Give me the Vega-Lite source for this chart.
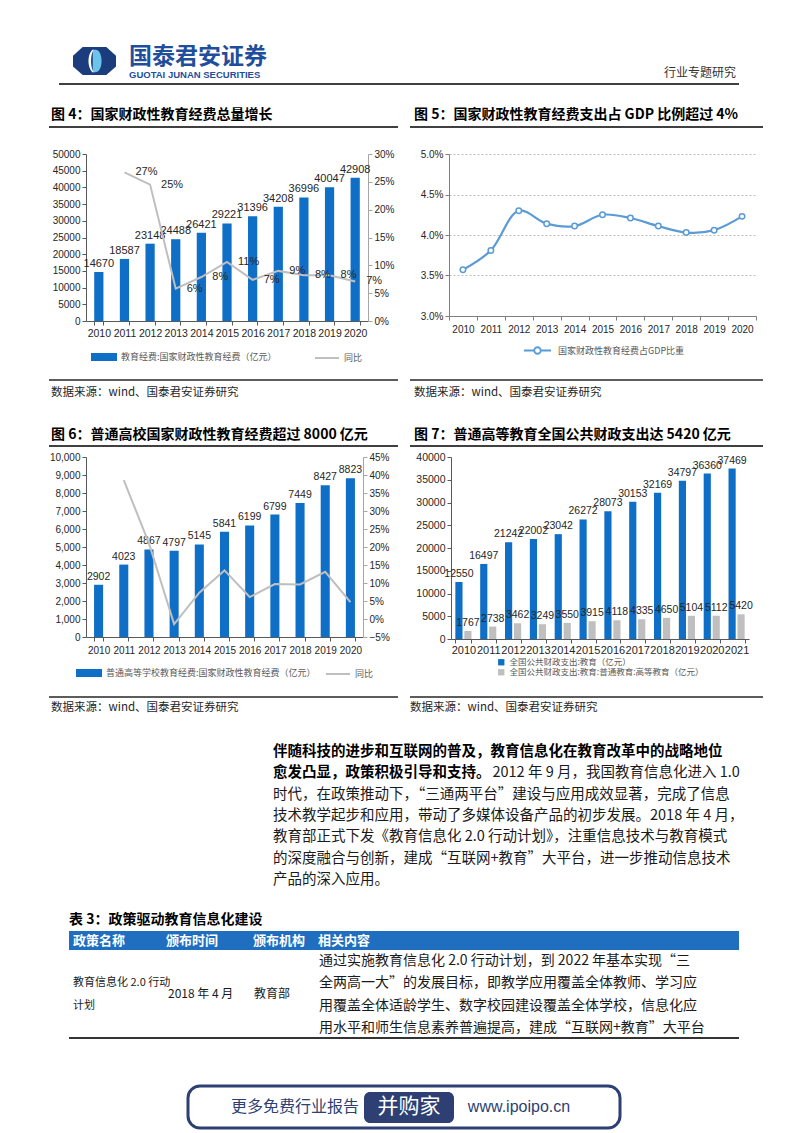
{
"$schema": "https://vega.github.io/schema/vega-lite/v6.json",
"background": "white",
"padding": {"left": 48, "top": 40, "right": 0, "bottom": 0},
"spacing": 0,
"resolve": {"scale": {"color": "independent"}, "legend": {"color": "independent"}},
"config": {
  "view": {"stroke": null},
  "font": "Liberation Sans",
  "axis": {"labelFont": "Liberation Sans", "labelColor": "#262626", "labelFontSize": 10, "grid": false, "domainColor": "#7F7F7F", "tickColor": "#7F7F7F", "tickSize": 4, "labelPadding": 2, "labelOverlap": false},
  "legend": {"layout": {"bottom": {"anchor": "middle"}}, "labelFont": "Noto Sans CJK SC", "labelFontSize": 9, "labelColor": "#595959"},
  "text": {"font": "Noto Sans CJK SC"}
},
"vconcat": [
{
  "width": 677, "height": 109,
  "data": {"values": [{}]},
  "layer": [
    {"mark": {"type": "point", "shape": "M-0.55,-0.65L0.55,-0.65L1,-0.25L1,0.25L0.55,0.65L-0.55,0.65L-1,0.25L-1,-0.25Z", "size": 1849, "filled": true, "color": "#1B3D7E", "opacity": 1},
     "encoding": {"x": {"datum": 45.5, "type": "quantitative", "scale": {"domain": [0, 714], "range": [-37, 677], "nice": false, "zero": false}, "axis": null},
                  "y": {"datum": 21, "type": "quantitative", "scale": {"domain": [0, 109], "nice": false, "zero": false, "reverse": true}, "axis": null}}},
    {"mark": {"type": "point", "shape": "M-0.08,-0.52L0.05,-0.52C0.42,-0.52,0.42,0.52,0.05,0.52L-0.08,0.52Z", "size": 1849, "filled": true, "color": "#6CC4EA", "opacity": 1},
     "encoding": {"x": {"datum": 45.5, "type": "quantitative", "axis": null}, "y": {"datum": 21, "type": "quantitative", "axis": null}}},
    {"mark": {"type": "point", "shape": "M-0.1,-0.52C-0.34,-0.3,-0.34,0.3,-0.1,0.52L-0.04,0.52C-0.2,0.3,-0.2,-0.3,-0.04,-0.52Z", "size": 1849, "filled": true, "color": "#FFFFFF", "opacity": 1},
     "encoding": {"x": {"datum": 45.5, "type": "quantitative", "axis": null}, "y": {"datum": 21, "type": "quantitative", "axis": null}}},
    {"data": {"values": [{"t": "国泰君安证券"}]},
     "mark": {"type": "text", "align": "left", "baseline": "middle", "fontSize": 23, "fontWeight": "bold", "color": "#1F4E9C", "font": "Noto Sans CJK SC"},
     "encoding": {"x": {"datum": 80, "type": "quantitative", "axis": null}, "y": {"datum": 17, "type": "quantitative", "axis": null}, "text": {"field": "t"}}},
    {"data": {"values": [{"t": "GUOTAI JUNAN SECURITIES"}]},
     "mark": {"type": "text", "align": "left", "baseline": "middle", "fontSize": 9.5, "fontWeight": "bold", "color": "#1F4E9C", "font": "Liberation Sans"},
     "encoding": {"x": {"datum": 80, "type": "quantitative", "axis": null}, "y": {"datum": 35, "type": "quantitative", "axis": null}, "text": {"field": "t"}}},
    {"data": {"values": [{"t": "行业专题研究"}]},
     "mark": {"type": "text", "align": "right", "baseline": "middle", "fontSize": 12, "color": "#333333"},
     "encoding": {"x": {"datum": 687, "type": "quantitative", "axis": null}, "y": {"datum": 33, "type": "quantitative", "axis": null}, "text": {"field": "t"}}},
    {"mark": {"type": "rule", "color": "#404040", "strokeWidth": 2},
     "encoding": {"x": {"datum": 10, "type": "quantitative", "axis": null}, "x2": {"datum": 690}, "y": {"datum": 44, "type": "quantitative", "axis": null}}},
    {"data": {"values": [{"t": "图 4：国家财政性教育经费总量增长"}]},
     "mark": {"type": "text", "align": "left", "baseline": "middle", "fontSize": 14, "fontWeight": "bold", "color": "#000000"},
     "encoding": {"x": {"datum": 2, "type": "quantitative", "axis": null}, "y": {"datum": 75, "type": "quantitative", "axis": null}, "text": {"field": "t"}}},
    {"data": {"values": [{"t": "图 5：国家财政性教育经费支出占 GDP 比例超过 4%"}]},
     "mark": {"type": "text", "align": "left", "baseline": "middle", "fontSize": 14, "fontWeight": "bold", "color": "#000000"},
     "encoding": {"x": {"datum": 365, "type": "quantitative", "axis": null}, "y": {"datum": 75, "type": "quantitative", "axis": null}, "text": {"field": "t"}}},
    {"mark": {"type": "rule", "color": "#000000", "strokeWidth": 1.5},
     "encoding": {"x": {"datum": 0, "type": "quantitative", "axis": null}, "x2": {"datum": 349}, "y": {"datum": 87, "type": "quantitative", "axis": null}}},
    {"mark": {"type": "rule", "color": "#000000", "strokeWidth": 1.5},
     "encoding": {"x": {"datum": 361, "type": "quantitative", "axis": null}, "x2": {"datum": 714}, "y": {"datum": 87, "type": "quantitative", "axis": null}}}
  ]
},
{
  "resolve": {"scale": {"color": "independent"}, "legend": {"color": "independent"}},
  "hconcat": [
    {
      "width": 282, "height": 167,
      "data": {"values": [
        {"year": "2010", "value": 14670, "yoy": null},
        {"year": "2011", "value": 18587, "yoy": 0.267},
        {"year": "2012", "value": 23148, "yoy": 0.245},
        {"year": "2013", "value": 24488, "yoy": 0.058},
        {"year": "2014", "value": 26421, "yoy": 0.079},
        {"year": "2015", "value": 29221, "yoy": 0.106},
        {"year": "2016", "value": 31396, "yoy": 0.074},
        {"year": "2017", "value": 34208, "yoy": 0.090},
        {"year": "2018", "value": 36996, "yoy": 0.082},
        {"year": "2019", "value": 40047, "yoy": 0.082},
        {"year": "2020", "value": 42908, "yoy": 0.071}
      ]},
      "encoding": {"x": {"field": "year", "type": "ordinal", "scale": {"paddingInner": 0.64, "paddingOuter": 0.32},
        "axis": {"title": null, "labelAngle": 0, "tickBand": "extent", "domainColor": "#595959", "tickColor": "#595959", "labelFontSize": 10.5, "labelPadding": 3}}},
      "layer": [
        {"layer": [
          {"mark": {"type": "bar"},
           "encoding": {
             "y": {"field": "value", "type": "quantitative", "scale": {"domain": [0, 50000], "nice": false},
                   "axis": {"title": null, "values": [0, 5000, 10000, 15000, 20000, 25000, 30000, 35000, 40000, 45000, 50000], "format": "d", "domainColor": "#595959", "tickColor": "#595959"}},
             "color": {"datum": "教育经费:国家财政性教育经费（亿元）",
                       "scale": {"domain": ["教育经费:国家财政性教育经费（亿元）", "同比"], "range": ["#0F6FC6", "#BFBFBF"]},
                       "legend": {"orient": "bottom", "direction": "horizontal", "title": null, "symbolSize": 576, "labelLimit": 400, "columnPadding": 34, "offset": 5,
                                  "encode": {"symbols": {"update": {
                                    "shape": {"signal": "datum.value === '同比' ? 'stroke' : 'M-1,-0.25H1V0.25H-1Z'"},
                                    "fill": {"signal": "datum.value === '同比' ? 'transparent' : '#0F6FC6'"},
                                    "stroke": {"signal": "datum.value === '同比' ? '#BFBFBF' : 'transparent'"},
                                    "strokeWidth": {"value": 2}, "opacity": {"value": 1}}}}}}}},
          {"mark": {"type": "text", "baseline": "bottom", "dy": -3, "font": "Liberation Sans", "fontSize": 11, "color": "#262626"},
           "encoding": {"y": {"field": "value", "type": "quantitative",
                   "axis": {"title": null, "values": [0, 5000, 10000, 15000, 20000, 25000, 30000, 35000, 40000, 45000, 50000], "format": "d", "domainColor": "#595959", "tickColor": "#595959"}},
                        "text": {"field": "value", "type": "quantitative", "format": "d"}}}
        ]},
        {"transform": [{"filter": "datum.yoy != null"}],
         "layer": [
          {"mark": {"type": "line", "strokeWidth": 2},
           "encoding": {
             "y": {"field": "yoy", "type": "quantitative", "scale": {"domain": [0, 0.3], "nice": false},
                   "axis": {"orient": "right", "title": null, "values": [0, 0.05, 0.1, 0.15, 0.2, 0.25, 0.3], "format": ".0%", "domainColor": "#A6A6A6", "tickColor": "#A6A6A6"}},
             "color": {"datum": "同比"}}},
          {"mark": {"type": "text", "align": "left", "baseline": "middle", "dx": 11, "font": "Liberation Sans", "fontSize": 11, "color": "#262626"},
           "encoding": {"y": {"field": "yoy", "type": "quantitative",
                   "axis": {"orient": "right", "title": null, "values": [0, 0.05, 0.1, 0.15, 0.2, 0.25, 0.3], "format": ".0%", "domainColor": "#A6A6A6", "tickColor": "#A6A6A6"}},
                        "text": {"field": "yoy", "type": "quantitative", "format": ".0%"}}}
        ]}
      ],
      "resolve": {"scale": {"y": "independent"}}
    },
    {
      "width": 307, "height": 162,
      "data": {"values": [
        {"year": "2010", "ratio": 0.0357},
        {"year": "2011", "ratio": 0.0381},
        {"year": "2012", "ratio": 0.0430},
        {"year": "2013", "ratio": 0.0414},
        {"year": "2014", "ratio": 0.0411},
        {"year": "2015", "ratio": 0.0425},
        {"year": "2016", "ratio": 0.0421},
        {"year": "2017", "ratio": 0.0411},
        {"year": "2018", "ratio": 0.0403},
        {"year": "2019", "ratio": 0.0406},
        {"year": "2020", "ratio": 0.0423}
      ]},
      "encoding": {
        "x": {"field": "year", "type": "ordinal", "scale": {"paddingInner": 0, "paddingOuter": 0},
              "axis": {"title": null, "labelAngle": 0, "tickBand": "extent", "domainColor": "#7F7F7F", "tickColor": "#7F7F7F", "labelFontSize": 10, "labelPadding": 4}},
        "y": {"field": "ratio", "type": "quantitative", "scale": {"domain": [0.03, 0.05], "nice": false, "zero": false},
              "axis": {"title": null, "values": [0.03, 0.035, 0.04, 0.045, 0.05], "format": ".1%", "grid": true, "gridDash": [2, 2], "gridColor": "#BFBFBF", "domainColor": "#7F7F7F", "tickColor": "#7F7F7F"}}
      },
      "layer": [
        {"mark": {"type": "line", "interpolate": "catmull-rom", "strokeWidth": 2.2},
         "encoding": {"color": {"datum": "国家财政性教育经费占GDP比重", "scale": {"range": ["#5B9BD5"]},
           "legend": {"orient": "bottom", "direction": "horizontal", "title": null, "symbolSize": 117, "symbolOffset": 10, "labelOffset": 14, "labelLimit": 300, "offset": 10,
             "encode": {"symbols": {"update": {
               "shape": {"value": "M-2.5,0H-0.6M0.6,0H2.5M0.6,0A0.6,0.6,0,1,1,-0.6,0A0.6,0.6,0,1,1,0.6,0Z"},
               "fill": {"value": "white"}, "stroke": {"value": "#5B9BD5"}, "strokeWidth": {"value": 1.8}, "opacity": {"value": 1}}}}}}}},
        {"mark": {"type": "point", "filled": true, "fill": "white", "stroke": "#5B9BD5", "strokeWidth": 1.5, "size": 30, "opacity": 1}}
      ]
    }
  ],
  "spacing": 25
},
{
  "width": 677, "height": 88,
  "data": {"values": [{}]},
  "layer": [
    {"mark": {"type": "rule", "color": "#262626", "strokeWidth": 1.5},
     "encoding": {"x": {"datum": 0, "type": "quantitative", "scale": {"domain": [0, 714], "range": [-37, 677], "nice": false, "zero": false}, "axis": null}, "x2": {"datum": 349},
                  "y": {"datum": 16, "type": "quantitative", "scale": {"domain": [0, 88], "nice": false, "zero": false, "reverse": true}, "axis": null}}},
    {"mark": {"type": "rule", "color": "#262626", "strokeWidth": 1.5},
     "encoding": {"x": {"datum": 361, "type": "quantitative", "axis": null}, "x2": {"datum": 714}, "y": {"datum": 16, "type": "quantitative", "axis": null}}},
    {"data": {"values": [{"t": "数据来源：wind、国泰君安证券研究"}]},
     "mark": {"type": "text", "align": "left", "baseline": "middle", "fontSize": 11.5, "color": "#262626"},
     "encoding": {"x": {"datum": 2, "type": "quantitative", "axis": null}, "y": {"datum": 29, "type": "quantitative", "axis": null}, "text": {"field": "t"}}},
    {"data": {"values": [{"t": "数据来源：wind、国泰君安证券研究"}]},
     "mark": {"type": "text", "align": "left", "baseline": "middle", "fontSize": 11.5, "color": "#262626"},
     "encoding": {"x": {"datum": 365, "type": "quantitative", "axis": null}, "y": {"datum": 29, "type": "quantitative", "axis": null}, "text": {"field": "t"}}},
    {"data": {"values": [{"t": "图 6：普通高校国家财政性教育经费超过 8000 亿元"}]},
     "mark": {"type": "text", "align": "left", "baseline": "middle", "fontSize": 14, "fontWeight": "bold", "color": "#000000"},
     "encoding": {"x": {"datum": 2, "type": "quantitative", "axis": null}, "y": {"datum": 71, "type": "quantitative", "axis": null}, "text": {"field": "t"}}},
    {"data": {"values": [{"t": "图 7：普通高等教育全国公共财政支出达 5420 亿元"}]},
     "mark": {"type": "text", "align": "left", "baseline": "middle", "fontSize": 14, "fontWeight": "bold", "color": "#000000"},
     "encoding": {"x": {"datum": 365, "type": "quantitative", "axis": null}, "y": {"datum": 71, "type": "quantitative", "axis": null}, "text": {"field": "t"}}},
    {"mark": {"type": "rule", "color": "#000000", "strokeWidth": 1.5},
     "encoding": {"x": {"datum": 0, "type": "quantitative", "axis": null}, "x2": {"datum": 349}, "y": {"datum": 82, "type": "quantitative", "axis": null}}},
    {"mark": {"type": "rule", "color": "#000000", "strokeWidth": 1.5},
     "encoding": {"x": {"datum": 361, "type": "quantitative", "axis": null}, "x2": {"datum": 714}, "y": {"datum": 82, "type": "quantitative", "axis": null}}}
  ]
},
{
  "resolve": {"scale": {"color": "independent"}, "legend": {"color": "independent"}},
  "hconcat": [
    {
      "width": 277, "height": 180,
      "data": {"values": [
        {"year": "2010", "value": 2902, "yoy": null},
        {"year": "2011", "value": 4023, "yoy": 0.386},
        {"year": "2012", "value": 4867, "yoy": 0.210},
        {"year": "2013", "value": 4797, "yoy": -0.014},
        {"year": "2014", "value": 5145, "yoy": 0.073},
        {"year": "2015", "value": 5841, "yoy": 0.135},
        {"year": "2016", "value": 6199, "yoy": 0.061},
        {"year": "2017", "value": 6799, "yoy": 0.097},
        {"year": "2018", "value": 7449, "yoy": 0.096},
        {"year": "2019", "value": 8427, "yoy": 0.131},
        {"year": "2020", "value": 8823, "yoy": 0.047}
      ]},
      "encoding": {"x": {"field": "year", "type": "ordinal", "scale": {"paddingInner": 0.64, "paddingOuter": 0.32},
        "axis": {"title": null, "labelAngle": 0, "tickBand": "extent", "domainColor": "#595959", "tickColor": "#595959", "labelFontSize": 10, "labelPadding": 4}}},
      "layer": [
        {"layer": [
          {"mark": {"type": "bar"},
           "encoding": {
             "y": {"field": "value", "type": "quantitative", "scale": {"domain": [0, 10000], "nice": false},
                   "axis": {"title": null, "values": [0, 1000, 2000, 3000, 4000, 5000, 6000, 7000, 8000, 9000, 10000], "format": ",d", "domainColor": "#595959", "tickColor": "#595959"}},
             "color": {"datum": "普通高等学校教育经费:国家财政性教育经费（亿元）",
                       "scale": {"domain": ["普通高等学校教育经费:国家财政性教育经费（亿元）", "同比"], "range": ["#0F6FC6", "#BFBFBF"]},
                       "legend": {"orient": "bottom", "direction": "horizontal", "title": null, "symbolSize": 576, "labelLimit": 400, "columnPadding": 6, "offset": 5,
                                  "encode": {"symbols": {"update": {
                                    "shape": {"signal": "datum.value === '同比' ? 'stroke' : 'M-1,-0.25H1V0.25H-1Z'"},
                                    "fill": {"signal": "datum.value === '同比' ? 'transparent' : '#0F6FC6'"},
                                    "stroke": {"signal": "datum.value === '同比' ? '#BFBFBF' : 'transparent'"},
                                    "strokeWidth": {"value": 2}, "opacity": {"value": 1}}}}}}}},
          {"mark": {"type": "text", "baseline": "bottom", "dy": -3, "font": "Liberation Sans", "fontSize": 10.5, "color": "#262626"},
           "encoding": {"y": {"field": "value", "type": "quantitative",
                   "axis": {"title": null, "values": [0, 1000, 2000, 3000, 4000, 5000, 6000, 7000, 8000, 9000, 10000], "format": ",d", "domainColor": "#595959", "tickColor": "#595959"}},
                        "text": {"field": "value", "type": "quantitative", "format": "d"}}}
        ]},
        {"transform": [{"filter": "datum.yoy != null"}],
         "mark": {"type": "line", "strokeWidth": 2},
         "encoding": {
           "y": {"field": "yoy", "type": "quantitative", "scale": {"domain": [-0.05, 0.45], "nice": false, "zero": false},
                 "axis": {"orient": "right", "title": null, "values": [-0.05, 0, 0.05, 0.1, 0.15, 0.2, 0.25, 0.3, 0.35, 0.4, 0.45], "format": ".0%", "domainColor": "#A6A6A6", "tickColor": "#A6A6A6"}},
           "color": {"datum": "同比"}}}
      ],
      "resolve": {"scale": {"y": "independent"}}
    },
    {
      "width": 298, "height": 182,
      "data": {"values": [
        {"year": "2010", "series": "全国公共财政支出:教育（亿元）", "value": 12550},
        {"year": "2011", "series": "全国公共财政支出:教育（亿元）", "value": 16497},
        {"year": "2012", "series": "全国公共财政支出:教育（亿元）", "value": 21242},
        {"year": "2013", "series": "全国公共财政支出:教育（亿元）", "value": 22002},
        {"year": "2014", "series": "全国公共财政支出:教育（亿元）", "value": 23042},
        {"year": "2015", "series": "全国公共财政支出:教育（亿元）", "value": 26272},
        {"year": "2016", "series": "全国公共财政支出:教育（亿元）", "value": 28073},
        {"year": "2017", "series": "全国公共财政支出:教育（亿元）", "value": 30153},
        {"year": "2018", "series": "全国公共财政支出:教育（亿元）", "value": 32169},
        {"year": "2019", "series": "全国公共财政支出:教育（亿元）", "value": 34797},
        {"year": "2020", "series": "全国公共财政支出:教育（亿元）", "value": 36360},
        {"year": "2021", "series": "全国公共财政支出:教育（亿元）", "value": 37469},
        {"year": "2010", "series": "全国公共财政支出:教育:普通教育:高等教育（亿元）", "value": 1767},
        {"year": "2011", "series": "全国公共财政支出:教育:普通教育:高等教育（亿元）", "value": 2738},
        {"year": "2012", "series": "全国公共财政支出:教育:普通教育:高等教育（亿元）", "value": 3462},
        {"year": "2013", "series": "全国公共财政支出:教育:普通教育:高等教育（亿元）", "value": 3249},
        {"year": "2014", "series": "全国公共财政支出:教育:普通教育:高等教育（亿元）", "value": 3550},
        {"year": "2015", "series": "全国公共财政支出:教育:普通教育:高等教育（亿元）", "value": 3915},
        {"year": "2016", "series": "全国公共财政支出:教育:普通教育:高等教育（亿元）", "value": 4118},
        {"year": "2017", "series": "全国公共财政支出:教育:普通教育:高等教育（亿元）", "value": 4335},
        {"year": "2018", "series": "全国公共财政支出:教育:普通教育:高等教育（亿元）", "value": 4650},
        {"year": "2019", "series": "全国公共财政支出:教育:普通教育:高等教育（亿元）", "value": 5104},
        {"year": "2020", "series": "全国公共财政支出:教育:普通教育:高等教育（亿元）", "value": 5112},
        {"year": "2021", "series": "全国公共财政支出:教育:普通教育:高等教育（亿元）", "value": 5420}
      ]},
      "encoding": {
        "x": {"field": "year", "type": "ordinal", "scale": {"paddingInner": 0.35, "paddingOuter": 0.175},
              "axis": {"title": null, "labelAngle": 0, "tickBand": "extent", "domainColor": "#595959", "tickColor": "#595959", "labelFontSize": 11, "labelPadding": 1}},
        "xOffset": {"field": "series", "type": "nominal", "scale": {"domain": ["全国公共财政支出:教育（亿元）", "全国公共财政支出:教育:普通教育:高等教育（亿元）"], "paddingInner": 0.2, "paddingOuter": 0}},
        "y": {"field": "value", "type": "quantitative", "scale": {"domain": [0, 40000], "nice": false},
              "axis": {"title": null, "values": [0, 5000, 10000, 15000, 20000, 25000, 30000, 35000, 40000], "format": "d", "domainColor": "#595959", "tickColor": "#595959", "labelFontSize": 10.5}}
      },
      "layer": [
        {"mark": {"type": "bar"},
         "encoding": {"color": {"field": "series", "type": "nominal",
           "scale": {"domain": ["全国公共财政支出:教育（亿元）", "全国公共财政支出:教育:普通教育:高等教育（亿元）"], "range": ["#0F6FC6", "#BFBFBF"]},
           "legend": {"orient": "bottom", "direction": "vertical", "title": null, "symbolType": "square", "symbolSize": 40, "rowPadding": 1, "labelLimit": 400, "offset": 3, "labelFontSize": 8.5}}}},
        {"mark": {"type": "text", "baseline": "bottom", "dy": -3, "font": "Liberation Sans", "fontSize": 10.5, "color": "#262626"},
         "encoding": {"text": {"field": "value", "type": "quantitative", "format": "d"}}}
      ]
    }
  ],
  "spacing": 25
},
{
  "width": 677, "height": 453,
  "layer": [
    {
      "data": {"values": [{}]},
      "layer": [
        {"mark": {"type": "rule", "color": "#262626", "strokeWidth": 1.5},
         "encoding": {"x": {"datum": 0, "type": "quantitative", "scale": {"domain": [0, 714], "range": [-37, 677], "nice": false, "zero": false}, "axis": null}, "x2": {"datum": 349},
                      "y": {"datum": 17, "type": "quantitative", "scale": {"domain": [0, 453], "nice": false, "zero": false, "reverse": true}, "axis": null}}},
        {"mark": {"type": "rule", "color": "#262626", "strokeWidth": 1.5},
         "encoding": {"x": {"datum": 361, "type": "quantitative", "axis": null}, "x2": {"datum": 714}, "y": {"datum": 17, "type": "quantitative", "axis": null}}},
        {"data": {"values": [{"t": "数据来源：wind、国泰君安证券研究"}]},
         "mark": {"type": "text", "align": "left", "baseline": "middle", "fontSize": 11.5, "color": "#262626"},
         "encoding": {"x": {"datum": 2, "type": "quantitative", "axis": null}, "y": {"datum": 28, "type": "quantitative", "axis": null}, "text": {"field": "t"}}},
        {"data": {"values": [{"t": "数据来源：wind、国泰君安证券研究"}]},
         "mark": {"type": "text", "align": "left", "baseline": "middle", "fontSize": 11.5, "color": "#262626"},
         "encoding": {"x": {"datum": 361, "type": "quantitative", "axis": null}, "y": {"datum": 28, "type": "quantitative", "axis": null}, "text": {"field": "t"}}},
        {"data": {"values": [{"t": "表 3：政策驱动教育信息化建设"}]},
         "mark": {"type": "text", "align": "left", "baseline": "middle", "fontSize": 14, "fontWeight": "bold", "color": "#000000"},
         "encoding": {"x": {"datum": 20, "type": "quantitative", "axis": null}, "y": {"datum": 240, "type": "quantitative", "axis": null}, "text": {"field": "t"}}},
        {"mark": {"type": "rect", "color": "#1F6EBF"},
         "encoding": {"x": {"datum": 20, "type": "quantitative", "axis": null}, "x2": {"datum": 690}, "y": {"datum": 251, "type": "quantitative", "axis": null}, "y2": {"datum": 270}}},
        {"data": {"values": [{"t": "政策名称"}]},
         "mark": {"type": "text", "align": "left", "baseline": "middle", "fontSize": 13, "fontWeight": "bold", "color": "#FFFFFF"},
         "encoding": {"x": {"datum": 24, "type": "quantitative", "axis": null}, "y": {"datum": 260.5, "type": "quantitative", "axis": null}, "text": {"field": "t"}}},
        {"data": {"values": [{"t": "颁布时间"}]},
         "mark": {"type": "text", "align": "left", "baseline": "middle", "fontSize": 13, "fontWeight": "bold", "color": "#FFFFFF"},
         "encoding": {"x": {"datum": 117, "type": "quantitative", "axis": null}, "y": {"datum": 260.5, "type": "quantitative", "axis": null}, "text": {"field": "t"}}},
        {"data": {"values": [{"t": "颁布机构"}]},
         "mark": {"type": "text", "align": "left", "baseline": "middle", "fontSize": 13, "fontWeight": "bold", "color": "#FFFFFF"},
         "encoding": {"x": {"datum": 204, "type": "quantitative", "axis": null}, "y": {"datum": 260.5, "type": "quantitative", "axis": null}, "text": {"field": "t"}}},
        {"data": {"values": [{"t": "相关内容"}]},
         "mark": {"type": "text", "align": "left", "baseline": "middle", "fontSize": 13, "fontWeight": "bold", "color": "#FFFFFF"},
         "encoding": {"x": {"datum": 269, "type": "quantitative", "axis": null}, "y": {"datum": 260.5, "type": "quantitative", "axis": null}, "text": {"field": "t"}}},
        {"mark": {"type": "rule", "color": "#333333", "strokeWidth": 2},
         "encoding": {"x": {"datum": 20, "type": "quantitative", "axis": null}, "x2": {"datum": 690}, "y": {"datum": 358, "type": "quantitative", "axis": null}}},
        {"mark": {"type": "rect", "fill": "#FFFFFF", "stroke": "#2D3F73", "strokeWidth": 3, "cornerRadius": 12},
         "encoding": {"x": {"datum": 139, "type": "quantitative", "axis": null}, "x2": {"datum": 571}, "y": {"datum": 406, "type": "quantitative", "axis": null}, "y2": {"datum": 448}}},
        {"mark": {"type": "rect", "color": "#2D3F73", "cornerRadius": 6},
         "encoding": {"x": {"datum": 315, "type": "quantitative", "axis": null}, "x2": {"datum": 405}, "y": {"datum": 412, "type": "quantitative", "axis": null}, "y2": {"datum": 443}}},
        {"data": {"values": [{"t": "更多免费行业报告"}]},
         "mark": {"type": "text", "align": "center", "baseline": "middle", "fontSize": 16, "color": "#2D3F73"},
         "encoding": {"x": {"datum": 246, "type": "quantitative", "axis": null}, "y": {"datum": 427, "type": "quantitative", "axis": null}, "text": {"field": "t"}}},
        {"data": {"values": [{"t": "并购家"}]},
         "mark": {"type": "text", "align": "center", "baseline": "middle", "fontSize": 21, "color": "#FFFFFF"},
         "encoding": {"x": {"datum": 360, "type": "quantitative", "axis": null}, "y": {"datum": 427, "type": "quantitative", "axis": null}, "text": {"field": "t"}}},
        {"data": {"values": [{"t": "www.ipoipo.cn"}]},
         "mark": {"type": "text", "align": "center", "baseline": "middle", "fontSize": 16, "color": "#2D3F73", "font": "Liberation Sans"},
         "encoding": {"x": {"datum": 470, "type": "quantitative", "axis": null}, "y": {"datum": 427, "type": "quantitative", "axis": null}, "text": {"field": "t"}}}
      ]
    },
    {
      "layer": [
        {"data": {"values": [
           {"line": 1, "t": "伴随科技的进步和互联网的普及，教育信息化在教育改革中的战略地位"},
           {"line": 2, "t": "愈发凸显，政策积极引导和支持。"}]},
         "mark": {"type": "text", "align": "left", "baseline": "middle", "fontSize": 14.5, "fontWeight": "bold", "color": "#000000"},
         "encoding": {"x": {"datum": 0, "type": "quantitative", "scale": {"domain": [0, 31], "range": [187, 653], "nice": false, "zero": false}, "axis": null},
                      "y": {"field": "line", "type": "quantitative", "scale": {"domain": [-2.38, 18.86], "nice": false, "zero": false, "reverse": true}, "axis": null},
                      "text": {"field": "t"}}},
        {"data": {"values": [
           {"line": 3, "t": "时代，在政策推动下，“三通两平台”建设与应用成效显著，完成了信息"},
           {"line": 4, "t": "技术教学起步和应用，带动了多媒体设备产品的初步发展。2018 年 4 月，"},
           {"line": 5, "t": "教育部正式下发《教育信息化 2.0 行动计划》，注重信息技术与教育模式"},
           {"line": 6, "t": "的深度融合与创新，建成“互联网+教育”大平台，进一步推动信息技术"},
           {"line": 7, "t": "产品的深入应用。"}]},
         "mark": {"type": "text", "align": "left", "baseline": "middle", "fontSize": 14.5, "color": "#1A1A1A"},
         "encoding": {"x": {"datum": 0, "type": "quantitative", "axis": null},
                      "y": {"field": "line", "type": "quantitative", "axis": null},
                      "text": {"field": "t"}}},
        {"data": {"values": [{"line": 2, "t": "2012 年 9 月，我国教育信息化进入 1.0"}]},
         "mark": {"type": "text", "align": "left", "baseline": "middle", "fontSize": 14.5, "color": "#1A1A1A"},
         "encoding": {"x": {"datum": 14.6, "type": "quantitative", "axis": null},
                      "y": {"field": "line", "type": "quantitative", "axis": null},
                      "text": {"field": "t"}}}
      ]
    },
    {
      "layer": [
        {"data": {"values": [{"line": 2, "t": "教育信息化 2.0 行动"}, {"line": 3, "t": "计划"}]},
         "mark": {"type": "text", "align": "left", "baseline": "middle", "fontSize": 11, "color": "#1A1A1A"},
         "encoding": {"x": {"datum": 24, "type": "quantitative", "scale": {"domain": [0, 714], "range": [-37, 677], "nice": false, "zero": false}, "axis": null},
                      "y": {"field": "line", "type": "quantitative", "scale": {"domain": [-11.58, 8.71], "nice": false, "zero": false, "reverse": true}, "axis": null},
                      "text": {"field": "t"}}},
        {"data": {"values": [{"line": 2.5, "t": "2018 年 4 月"}]},
         "mark": {"type": "text", "align": "left", "baseline": "middle", "fontSize": 12, "color": "#1A1A1A"},
         "encoding": {"x": {"datum": 119, "type": "quantitative", "axis": null}, "y": {"field": "line", "type": "quantitative", "axis": null}, "text": {"field": "t"}}},
        {"data": {"values": [{"line": 2.5, "t": "教育部"}]},
         "mark": {"type": "text", "align": "left", "baseline": "middle", "fontSize": 12, "color": "#1A1A1A"},
         "encoding": {"x": {"datum": 205, "type": "quantitative", "axis": null}, "y": {"field": "line", "type": "quantitative", "axis": null}, "text": {"field": "t"}}},
        {"data": {"values": [
           {"line": 1, "t": "通过实施教育信息化 2.0 行动计划，到 2022 年基本实现“三"},
           {"line": 2, "t": "全两高一大”的发展目标，即教学应用覆盖全体教师、学习应"},
           {"line": 3, "t": "用覆盖全体适龄学生、数字校园建设覆盖全体学校，信息化应"},
           {"line": 4, "t": "用水平和师生信息素养普遍提高，建成“互联网+教育”大平台"}]},
         "mark": {"type": "text", "align": "left", "baseline": "middle", "fontSize": 14, "color": "#1A1A1A"},
         "encoding": {"x": {"datum": 270, "type": "quantitative", "axis": null}, "y": {"field": "line", "type": "quantitative", "axis": null}, "text": {"field": "t"}}}
      ]
    }
  ],
  "resolve": {"scale": {"x": "independent", "y": "independent"}}
}
]
}
